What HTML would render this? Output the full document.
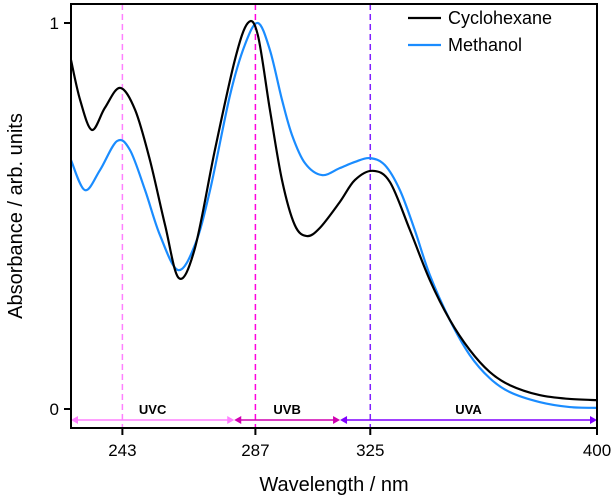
<!DOCTYPE html>
<html><head><meta charset="utf-8"><style>
body{margin:0;background:#fff;}
svg{display:block;font-family:"Liberation Sans",Arial,sans-serif;}
</style></head><body>
<svg id="chart" width="615" height="497" viewBox="0 0 615 497">
<g id="marks"></g>
</svg>
<script>
const xTicks=[243,287,325,400];
const yTicks=[0,1];
const yTickLabels=["0","1"];
const cycloNm=[226,229.0,232.9,237.2,242.2,247.2,252.1,257.1,261.7,267.0,273.6,280.2,284.5,287.8,291.8,295.8,300.0,304.0,308.3,314.9,319.9,325.8,331.5,338.1,344.7,351.3,357.9,364.5,371.1,381,391,400];
const cycloAbs=[.904,.801,.723,.780,.832,.775,.645,.477,.339,.417,.671,.904,1.0,.969,.775,.593,.477,.448,.469,.536,.593,.617,.588,.464,.334,.231,.153,.096,.062,.036,.026,.023];
const methNm=[226,230.6,235.6,241.2,245.5,250.5,255.4,261.4,267.0,272.0,278.6,283.5,287.8,291.8,295.8,299.1,303.4,309.0,314.9,319.9,324.8,329.8,334.8,339.7,344.7,351.3,357.9,364.5,371.1,381,391,400];
const methAbs=[.645,.567,.619,.694,.671,.567,.451,.360,.425,.567,.813,.943,1.0,.930,.801,.710,.637,.606,.624,.640,.650,.632,.567,.464,.347,.231,.140,.080,.044,.018,.005,.003];
const bands=["UVC","UVB","UVA"];
const bandStart=[226,280,315];
const bandEnd=[280,315,400];
const bandColors=["#ff80ff","#d000b0","#8000ff"];
const markerNm=[243,287,325];
const markerColors=["#ff80ff","#ff00e0","#8020ff"];

const L=71,R=597,T=4,B=428;
const xMin=226,xMax=400;
const X=v=>L+(v-xMin)/(xMax-xMin)*(R-L);
const Y=v=>409-v*386;
const NS="http://www.w3.org/2000/svg";
const g=document.getElementById('marks');
function mk(tag,attrs,parent){const e=document.createElementNS(NS,tag);for(const k in attrs)e.setAttribute(k,attrs[k]);(parent||g).appendChild(e);return e;}
function smooth(xs,ys){
  const p=xs.map((x,i)=>[X(x),Y(ys[i])]);
  let d="M"+p[0][0]+","+p[0][1];
  for(let i=0;i<p.length-1;i++){
    const p0=p[i-1]||p[i],p1=p[i],p2=p[i+1],p3=p[i+2]||p2;
    const c1=[p1[0]+(p2[0]-p0[0])/6,p1[1]+(p2[1]-p0[1])/6];
    const c2=[p2[0]-(p3[0]-p1[0])/6,p2[1]-(p3[1]-p1[1])/6];
    d+=` C${c1[0]},${c1[1]} ${c2[0]},${c2[1]} ${p2[0]},${p2[1]}`;
  }
  return d;
}
markerNm.forEach((v,i)=>{
  const l=mk('line',{x1:X(v),x2:X(v),y1:T,y2:B,stroke:markerColors[i],'stroke-width':1.5,'stroke-dasharray':'6,4'});
  
  
});
bands.forEach((b,i)=>{
  const x1=X(bandStart[i]),x2=X(bandEnd[i]),c=bandColors[i];
  const grp=mk('g',{});
  
  
  mk('line',{x1:x1+4,x2:x2-4,y1:420,y2:420,stroke:c,'stroke-width':1.5},grp);
  mk('path',{d:`M${x1},420 l7,-4 v8 z M${x2},420 l-7,-4 v8 z`,fill:c},grp);
  const t=mk('text',{x:(x1+x2)/2,y:414,'text-anchor':'middle','font-size':13,'font-weight':'bold',fill:'#000'},grp);
  t.textContent=b;
});
const s1=mk('path',{d:smooth(methNm,methAbs),fill:'none',stroke:'#1a8cff','stroke-width':2.2});


const s2=mk('path',{d:smooth(cycloNm,cycloAbs),fill:'none',stroke:'#000','stroke-width':2.2});


const fr=mk('rect',{x:L,y:T,width:R-L,height:B-T,fill:'none',stroke:'#000','stroke-width':2});


xTicks.forEach(v=>{
  const tl=mk('line',{x1:X(v),x2:X(v),y1:B,y2:B+7,stroke:'#000','stroke-width':2});
  
  
  const t=mk('text',{x:X(v),y:B+28,'text-anchor':'middle','font-size':17});
  
  
  t.textContent=v;
});
yTicks.forEach((v,i)=>{
  const tl=mk('line',{x1:L-7,x2:L,y1:Y(v),y2:Y(v),stroke:'#000','stroke-width':2});
  
  
  const t=mk('text',{x:L-12,y:Y(v)+6,'text-anchor':'end','font-size':17});
  
  
  t.textContent=yTickLabels[i];
});
</script>
<svg style="position:absolute;left:0;top:0" width="615" height="497">
<text x="334" y="491" text-anchor="middle" font-size="20" font-family="Liberation Sans, sans-serif">Wavelength / nm</text>
<text transform="translate(22,216) rotate(-90)" text-anchor="middle" font-size="20" font-family="Liberation Sans, sans-serif">Absorbance / arb. units</text>
<g font-family="Liberation Sans, sans-serif" font-size="18">
<line x1="408" x2="441" y1="18" y2="18" stroke="#000" stroke-width="2.2"/>
<text x="448" y="24">Cyclohexane</text>
<line x1="408" x2="441" y1="45" y2="45" stroke="#1a8cff" stroke-width="2.2"/>
<text x="448" y="51">Methanol</text>
</g>
</svg>
</body></html>
